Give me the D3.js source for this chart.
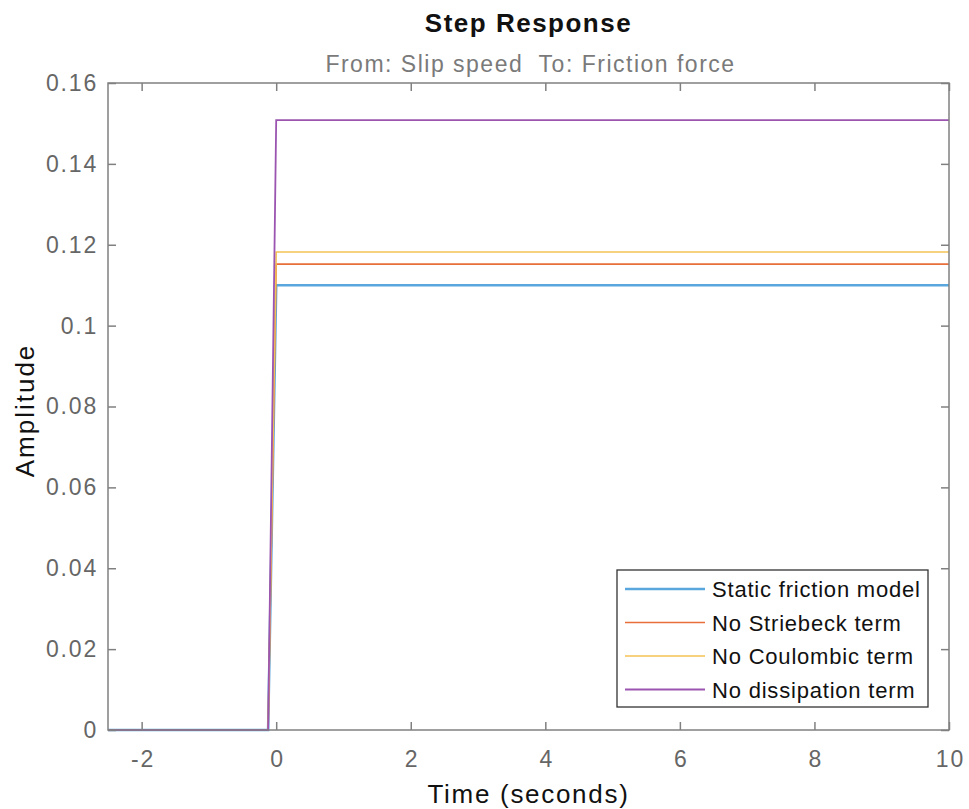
<!DOCTYPE html>
<html><head><meta charset="utf-8">
<script src="https://cdn.jsdelivr.net/npm/d3@7"></script>
<style>body{margin:0;background:#fff;} text{font-family:"Liberation Sans",Arial,Helvetica,sans-serif;}</style>
</head><body>
<svg id="chart" width="969" height="809"></svg>
<script>
// ---- data ----
const timePoints = [-2.5, -0.12, 0, 10];
const seriesNames = ["Static friction model", "No Striebeck term", "No Coulombic term", "No dissipation term"];
const staticFriction = [0, 0, 0.1100, 0.1100];
const noStriebeck = [0, 0, 0.1152, 0.1152];
const noCoulombic = [0, 0, 0.1182, 0.1182];
const noDissipation = [0, 0, 0.1508, 0.1508];
const seriesColors = ["#5AA7DE", "#E86E3A", "#F4C254", "#9B55B0"];
const seriesWidths = [2.6, 1.6, 1.6, 1.8];
const xTicks = [-2, 0, 2, 4, 6, 8, 10];
const yTicks = [0, 0.02, 0.04, 0.06, 0.08, 0.1, 0.12, 0.14, 0.16];

const allSeries = [staticFriction, noStriebeck, noCoulombic, noDissipation];

const svg = d3.select("#chart");
const m = {left:108, right:949, top:83, bottom:730};
const x = d3.scaleLinear().domain([-2.5, 10]).range([m.left, m.right]);
const y = d3.scaleLinear().domain([0, 0.16]).range([m.bottom, m.top]);
const axisColor = "#808080", labelColor = "#666666";
const tickLen = 8;

// lines
const line = d3.line().x((d,i)=>x(timePoints[i])).y(d=>y(d));
allSeries.forEach((s,i)=>{
  svg.append("path").datum(s).attr("d", line).attr("fill","none")
    .attr("stroke", seriesColors[i]).attr("stroke-width", seriesWidths[i]);
});

// axes (inner ticks)
const fmtY = d => d===0 ? "0" : d3.format("")(+d.toFixed(2));
const gB = svg.append("g").attr("transform",`translate(0,${m.bottom})`)
  .call(d3.axisBottom(x).tickValues(xTicks).tickSize(-tickLen).tickPadding(21).tickFormat(d3.format("d")));
const gT = svg.append("g").attr("transform",`translate(0,${m.top})`)
  .call(d3.axisTop(x).tickValues(xTicks).tickSize(-tickLen).tickFormat(""));
const gL = svg.append("g").attr("transform",`translate(${m.left},0)`)
  .call(d3.axisLeft(y).tickValues(yTicks).tickSize(-tickLen).tickPadding(10).tickFormat(fmtY));
const gR = svg.append("g").attr("transform",`translate(${m.right},0)`)
  .call(d3.axisRight(y).tickValues(yTicks).tickSize(-tickLen).tickFormat(""));
[gB,gT,gL,gR].forEach(g=>{
  g.select(".domain").remove();
  g.selectAll(".tick line").attr("stroke", axisColor).attr("stroke-width",1.5);
  g.selectAll(".tick text").attr("fill", labelColor).style("font-size","23px")
   .style("letter-spacing","1.8px")
   .style("font-family","'Liberation Sans',Arial,sans-serif");
});
gB.selectAll(".tick text").text(d => d<0 ? "-" + Math.abs(d) : d).attr("dx","0.9px");
svg.append("rect").attr("x", m.left).attr("y", m.top).attr("width", m.right-m.left).attr("height", m.bottom-m.top)
  .attr("fill","none").attr("stroke", axisColor).attr("stroke-width",1.5);

// titles
const cx = (m.left+m.right)/2;
svg.append("text").attr("x", cx).attr("y", 32).attr("text-anchor","middle")
  .style("font-size","26px").style("letter-spacing","1.5px").style("font-weight","bold").attr("fill","#111").text("Step Response");
svg.append("text").attr("x", cx+2).attr("y", 72).attr("text-anchor","middle")
  .style("font-size","23px").style("letter-spacing","1.5px").style("white-space","pre")
  .attr("fill","#7a7a7a").text("From: Slip speed  To: Friction force");
svg.append("text").attr("x", cx).attr("y", 803).attr("text-anchor","middle")
  .style("font-size","26px").style("letter-spacing","1.7px").attr("fill","#111").text("Time (seconds)");
svg.append("text").attr("transform",`translate(34,${(m.top+m.bottom)/2+4}) rotate(-90)`).attr("text-anchor","middle")
  .style("font-size","26px").style("letter-spacing","2px").attr("fill","#111").text("Amplitude");

// legend
const lg = svg.append("g");
const lx0 = 617, ly0 = 570, lw = 311, lh = 137;
lg.append("rect").attr("x", lx0).attr("y", ly0).attr("width", lw).attr("height", lh)
  .attr("fill","#fff").attr("stroke","#333").attr("stroke-width",1.3);
seriesNames.forEach((n,i)=>{
  const yy = ly0 + 19 + i*33.5;
  lg.append("line").attr("x1", lx0+8).attr("x2", lx0+88).attr("y1", yy).attr("y2", yy)
    .attr("stroke", seriesColors[i]).attr("stroke-width", seriesWidths[i]);
  lg.append("text").attr("x", lx0+95).attr("y", yy+8).style("font-size","22px").style("letter-spacing","0.8px")
    .attr("fill","#111").text(n);
});
</script>
</body></html>
